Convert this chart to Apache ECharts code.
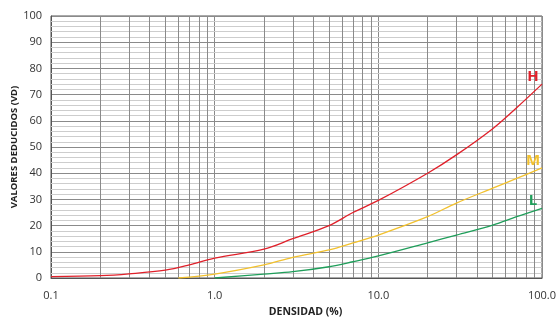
<!DOCTYPE html>
<html><head><meta charset="utf-8">
<script src="https://cdn.jsdelivr.net/npm/echarts@6/dist/echarts.min.js"></script>
<style>html,body{margin:0;padding:0;background:#fff}#c{width:558px;height:331px}</style>
</head><body><div id="c"></div>
<script>
const xH = [0.1,0.2,0.3,0.5,0.7,1,2,3,5,7,10,20,30,50,70,100];
const yH = [0.5,0.9,1.6,3.0,5.0,7.6,11,15,20,25,29.6,40,47,57,65,74];
const xM = [0.6,1,2,3,5,7,10,20,30,50,70,100];
const yM = [0,1.5,5,7.9,10.7,13.4,16.4,23.4,28.6,34.3,38,42];
const xL = [1,2,3,5,7,10,20,30,50,70,100];
const yL = [0,1.5,2.4,4.3,6.2,8.4,13.4,16.4,20.2,23.4,26.6];
const xTicks = {0.1:'0.1',1:'1.0',10:'10.0',100:'100.0'};
const minorX = [0.2,0.3,0.4,0.5,0.6,0.7,0.8,0.9,2,3,4,5,6,7,8,9,20,30,40,50,60,70,80,90];
const minorY = [2,4,6,8,12,14,16,18,22,24,26,28,32,34,36,38,42,44,46,48,52,54,56,58,62,64,66,68,72,74,76,78,82,84,86,88,92,94,96,98];
const names = ['H','M','L'];
const colors = ['#e0202a','#f2c12e','#1f9e5a'];
const font = 'Open Sans, Liberation Sans, sans-serif';
const zip = (xs, ys) => xs.map((x,i)=>[x,ys[i]]);
const sets = [zip(xH,yH), zip(xM,yM), zip(xL,yL)];
const chart = echarts.init(document.getElementById('c'));
const series = sets.map((d,i)=>({
  name: names[i], type:'line', smooth:0.35, showSymbol:true, symbol:'circle', symbolSize:0,
  lineStyle:{color:colors[i], width:1.3}, itemStyle:{color:colors[i]},
  label:{show:false},
  data: d.map((p,j)=> j===d.length-1 ? {value:p, label:{show:true, position:'top', offset:[-9,5], formatter:names[i], color:colors[i], fontSize:15, fontWeight:'bold', fontFamily:font}} : p),
  z: 5
}));
series.push({type:'line', data:[], silent:true, z:1,
  markLine:{silent:true, symbol:'none', label:{show:false}, animation:false,
    data: minorY.map(v=>({yAxis:v, lineStyle:{color:'#cdcdcd', width:1, type:'solid'}}))
      .concat(minorX.map(v=>({xAxis:v, lineStyle:{color:'#8a8a8a', width:1, type:'solid'}})))}});
chart.setOption({
  animation:false,
  grid:{left:51, right:16, top:16, bottom:53, show:true, borderColor:'#555', borderWidth:1, backgroundColor:'transparent', containLabel:false, outerBoundsMode:'none'},
  xAxis:{type:'log', logBase:10, min:0.1, max:100,
    name:'DENSIDAD (%)', nameLocation:'middle', nameGap:29, nameMoveOverlap:false,
    nameTextStyle:{fontFamily:font, fontSize:10.5, fontWeight:'bold', color:'#222', padding:[0,0,0,18]},
    axisLine:{show:true, lineStyle:{color:'#555'}}, axisTick:{show:false},
    axisLabel:{formatter:v=>xTicks[v] || '', fontFamily:font, fontSize:11, color:'#333', margin:12},
    splitLine:{show:true, lineStyle:{color:'#8a8a8a', width:1}}},
  yAxis:{type:'value', min:0, max:100, interval:10,
    name:'VALORES DEDUCIDOS (VD)', nameLocation:'middle', nameGap:32, nameMoveOverlap:false,
    nameTextStyle:{fontFamily:font, fontSize:9.5, fontWeight:'bold', color:'#222'},
    axisLine:{show:true, lineStyle:{color:'#555'}}, axisTick:{show:false},
    axisLabel:{fontFamily:font, fontSize:11, color:'#333', margin:9},
    splitLine:{show:true, lineStyle:{color:'#8a8a8a', width:1}}},
  series: series
});
</script></body></html>
